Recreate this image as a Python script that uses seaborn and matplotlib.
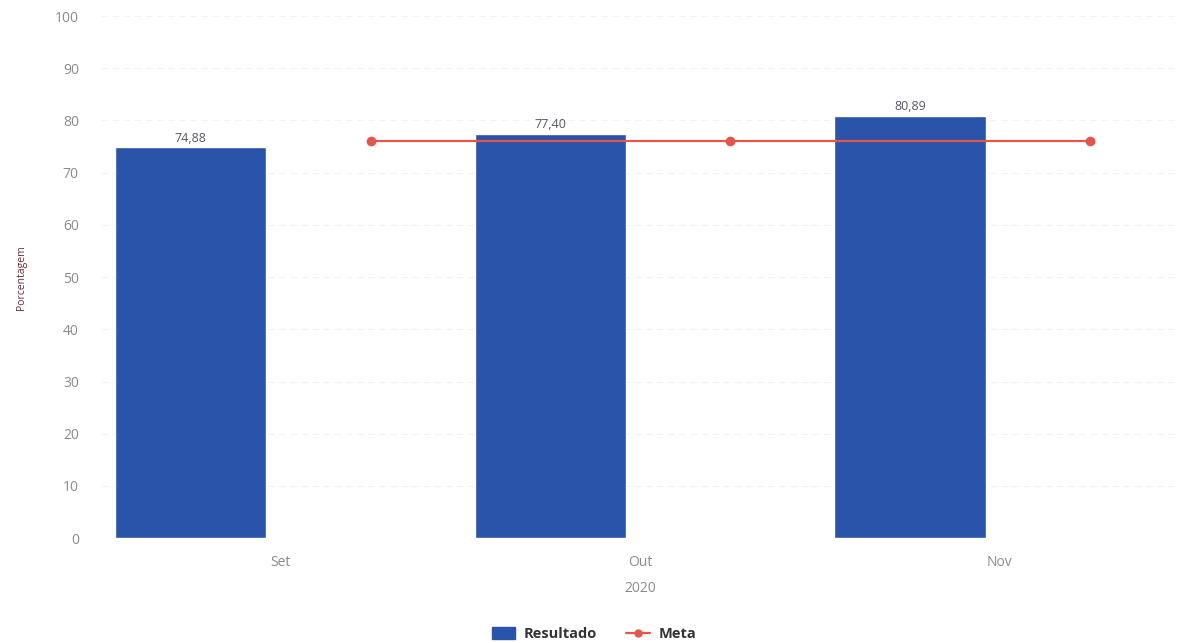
import numpy as np
import pandas as pd
import matplotlib
matplotlib.use("Agg")
import matplotlib.pyplot as plt
import seaborn as sns
from matplotlib.lines import Line2D
from matplotlib.patches import Patch

meses = ["Set", "Out", "Nov"]
resultado = [74.88, 77.40, 80.89]
meta = [76, 76, 76]

sns.set_theme(style="white")
plt.rcParams["font.family"] = ["Open Sans", "DejaVu Sans"]

pos = np.arange(len(meses))
df = pd.DataFrame({"pos": pos, "mes": meses, "Resultado": resultado, "Meta": meta})

azul = "#2a53aa"
vermelho = "#e4554b"

fig = plt.figure(figsize=(11.88, 6.43), dpi=100)
ax = fig.add_axes([0.085, 0.163, 0.908, 0.812])

sns.barplot(x=df["pos"] - 0.25, y=df["Resultado"], native_scale=True, width=0.42,
            color=azul, saturation=1, ax=ax, zorder=2)
sns.lineplot(x=df["pos"] + 0.25, y=df["Meta"], color=vermelho, linewidth=1.6,
             marker="o", markersize=7, markeredgewidth=0, ax=ax, zorder=3)

for p, v in zip(df["pos"] - 0.25, df["Resultado"]):
    ax.text(p, v + 0.5, f"{v:.2f}".replace(".", ","), ha="center", va="bottom",
            fontsize=9, color="#555566")

ax.set_xlim(-0.5, 2.5)
ax.set_ylim(0, 100)
ax.set_yticks(range(0, 101, 10))
ax.set_xticks(pos)
ax.set_xticklabels(meses)
ax.tick_params(axis="both", length=0, labelsize=10, labelcolor="#8a8a8a")
ax.tick_params(axis="y", pad=16)
ax.tick_params(axis="x", pad=12)
ax.grid(axis="y", color="#f2f2f2", linestyle=(0, (6, 4)), linewidth=0.8, zorder=0)
ax.set_axisbelow(True)
for s in ax.spines.values():
    s.set_visible(False)

ax.set_xlabel("2020", fontsize=10, color="#8a8a8a", labelpad=8)
ax.set_ylabel("Porcentagem", fontsize=7.5, color="#6b2d3a", labelpad=20)

handles = [
    Patch(facecolor=azul, edgecolor=azul, label="Resultado"),
    Line2D([0], [0], color=vermelho, marker="o", markersize=6, markeredgewidth=0,
           linewidth=1.6, label="Meta"),
]
leg = fig.legend(handles=handles, loc="lower center", bbox_to_anchor=(0.5, -0.018), ncol=2,
                 frameon=False, prop={"weight": "bold", "size": 10.5},
                 handlelength=1.6, handleheight=0.9, columnspacing=2.0, handletextpad=0.6)
for t in leg.get_texts():
    t.set_color("#333333")

fig.savefig("out.png", dpi=100)
